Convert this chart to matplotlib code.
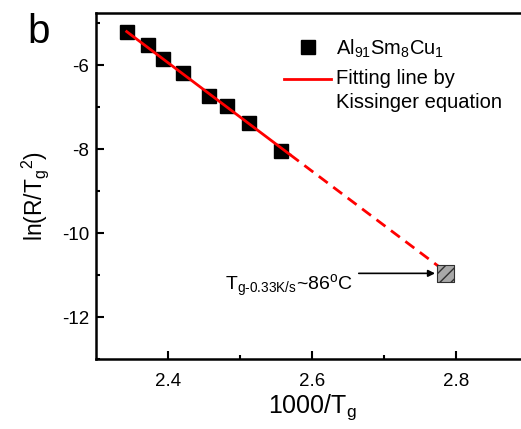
import numpy as np
import matplotlib.pyplot as plt

plt.rcParams['font.family'] = ['Liberation Sans', 'DejaVu Sans']
plt.rcParams['mathtext.fontset'] = 'custom'
plt.rcParams['mathtext.rm'] = 'Liberation Sans'
plt.rcParams['mathtext.it'] = 'Liberation Sans'
plt.rcParams['axes.unicode_minus'] = False

# measured points (1000/Tg, ln(R/Tg^2))
inv_tg = [2.3426, 2.3726, 2.3926, 2.4213, 2.4574, 2.4815, 2.5125, 2.5574]
ln_rate = [-5.20, -5.52, -5.85, -6.18, -6.73, -6.97, -7.38, -8.04]

# Kissinger fit: solid part and extrapolation
fit_x = [2.3426, 2.5694]
fit_y = [-5.20, -8.13]
ext_x = [2.5694, 2.7857]
ext_y = [-8.13, -10.92]

# extrapolated point at 0.33 K/s
pred_x = [2.7857]
pred_y = [-10.96]

fig = plt.figure(figsize=(5.21, 4.29), dpi=100)
ax = fig.add_axes([0.1843, 0.1632, 0.829, 0.8072])

ax.plot(inv_tg, ln_rate, 's', color='black', ms=10.5, zorder=3)
ax.plot(fit_x, fit_y, '-', color='#ff0000', lw=2, zorder=4)
ax.plot(ext_x, ext_y, color='#ff0000', lw=2, dashes=(4, 2.5), zorder=4)
ax.scatter(pred_x, pred_y, marker='s', s=160, facecolor='#a8a8a8',
           edgecolor='#303030', hatch='///', linewidth=0.8, zorder=5)

ax.annotate('', xy=(2.771, -10.96), xytext=(2.665, -10.96),
            arrowprops=dict(arrowstyle='-|>', color='black', lw=1.2,
                            mutation_scale=10, shrinkA=0, shrinkB=0))
ax.text(2.479, -11.36, r'$\mathregular{T_{g\text{-}0.33K/s}}$~86$\mathregular{^{o}}$C',
        fontsize=14, va='baseline', ha='left')

ax.set_xlim(2.3, 2.9)
ax.set_ylim(-13, -4.75)
ax.set_xticks([2.4, 2.6, 2.8])
ax.set_xticks([2.5, 2.7], minor=True)
ax.set_yticks([-12, -10, -8, -6])
ax.set_yticks([-13, -11, -9, -7, -5], minor=True)
ax.tick_params(which='both', direction='in', width=1.5, labelsize=13.5)
ax.tick_params(which='major', length=6)
ax.tick_params(which='minor', length=3)
ax.tick_params(axis='x', which='both', pad=10)
ax.tick_params(axis='y', which='both', pad=5)
for sp in ax.spines.values():
    sp.set_linewidth(1.8)

ax.set_xlabel(r'1000/T$_\mathregular{g}$', fontsize=18, labelpad=2)
ax.set_ylabel(r'ln(R/T$_\mathregular{g}$$^\mathregular{2}$)', fontsize=16.5)
ax.yaxis.set_label_coords(-0.105, 0.47)

# legend drawn by hand (axes fraction) so the red line sits on the first text row
ax.plot([0.4907], [0.901], 's', color='black', ms=10.5, transform=ax.transAxes)
ax.plot([0.435, 0.544], [0.8086, 0.8086], color='#ff0000', lw=2, transform=ax.transAxes)
ax.text(0.5556, 0.878, r'Al$_\mathregular{91}$Sm$_\mathregular{8}$Cu$_\mathregular{1}$',
        fontsize=14.5, va='baseline', transform=ax.transAxes)
ax.text(0.5556, 0.794, 'Fitting line by', fontsize=14.5, va='baseline',
        transform=ax.transAxes)
ax.text(0.5556, 0.724, 'Kissinger equation', fontsize=14.5, va='baseline',
        transform=ax.transAxes)

fig.text(0.052, 0.9, 'b', fontsize=29, va='baseline')

fig.savefig('out.png', dpi=100)
